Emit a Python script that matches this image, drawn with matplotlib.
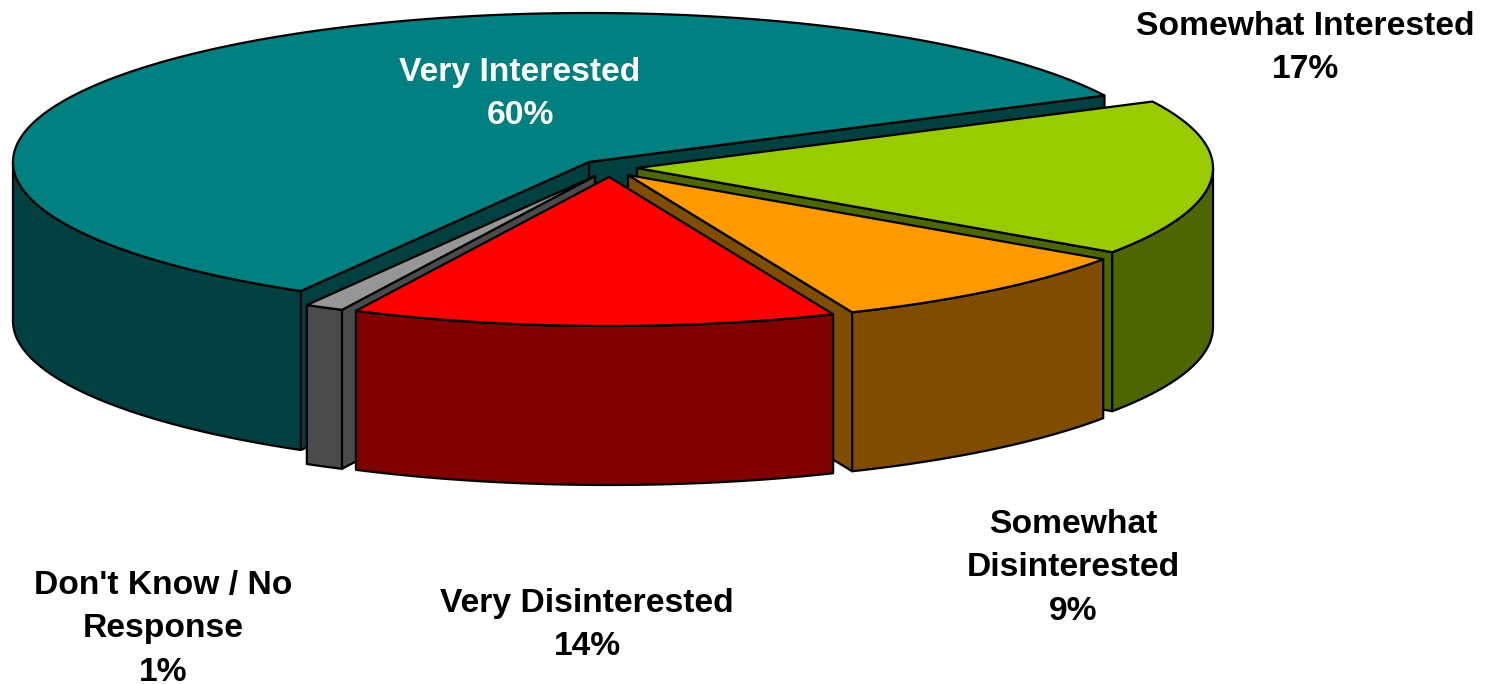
import matplotlib
matplotlib.use("Agg")
import matplotlib.pyplot as plt
import numpy as np

categories = ["Very Interested", "Don't Know / No\nResponse", "Very Disinterested",
              "Somewhat\nDisinterested", "Somewhat Interested"]
# slice shares, printed labels are rounded (they add up to 101)
shares = [59.3, 1.1, 13.6, 9.08, 16.92]
percent_labels = ["60%", "1%", "14%", "9%", "17%"]

top_colors = ["#008080", "#969696", "#FF0000", "#FF9900", "#99CC00"]
side_colors = ["#004040", "#4B4B4B", "#800000", "#804D00", "#4D6600"]
# apex of each exploded slice, in pixels
apex = [(589, 162), (595, 176), (609, 177), (628, 175), (637, 168)]
label_pos = [(520, 94), (163, 629), (587, 625), (1073, 568), (1305, 48)]
label_colors = ["white", "black", "black", "black", "black"]
draw_order = [0, 4, 1, 3, 2]

A = 576
B = 149
DEPTH = 159
START = 26.5

plt.rcParams["font.family"] = ["Liberation Sans", "DejaVu Sans"]

fig = plt.figure(figsize=(14.92, 6.84), dpi=100)
ax = fig.add_axes([0, 0, 1, 1])
ax.set_xlim(0, 1492)
ax.set_ylim(684, 0)
ax.axis("off")

edges = START + np.concatenate([[0], np.cumsum(shares)]) * 360 / sum(shares)


def rim(cx, cy, t0, t1):
    t = np.radians(np.linspace(t0, t1, max(int(abs(t1 - t0)) * 2, 2)))
    return cx + A * np.cos(t), cy - B * np.sin(t)


def poly(x, y, color):
    ax.fill(x, y, facecolor=color, edgecolor="black", linewidth=1.6, joinstyle="round")


def cut_face(cx, cy, t, color):
    px = cx + A * np.cos(np.radians(t))
    py = cy - B * np.sin(np.radians(t))
    poly([cx, px, px, cx], [cy, py, py + DEPTH, cy + DEPTH], color)


for i in draw_order:
    cx, cy = apex[i]
    t0, t1 = edges[i], edges[i + 1]

    # cut faces turned towards the viewer
    if np.cos(np.radians(t0)) > 0:
        cut_face(cx, cy, t0, side_colors[i])
    if np.cos(np.radians(t1)) < 0:
        cut_face(cx, cy, t1, side_colors[i])

    # outer wall, only the front half of the rim shows
    w0, w1 = max(t0, 180), min(t1, 360)
    if w1 > w0:
        x, y = rim(cx, cy, w0, w1)
        poly(np.r_[x, x[::-1]], np.r_[y, y[::-1] + DEPTH], side_colors[i])

    x, y = rim(cx, cy, t0, t1)
    poly(np.r_[cx, x], np.r_[cy, y], top_colors[i])

for i, name in enumerate(categories):
    ax.text(label_pos[i][0], label_pos[i][1], f"{name}\n{percent_labels[i]}", color=label_colors[i],
            ha="center", va="center", fontsize=24.2, fontweight="bold", linespacing=1.52)

fig.savefig("out.png", dpi=100)
